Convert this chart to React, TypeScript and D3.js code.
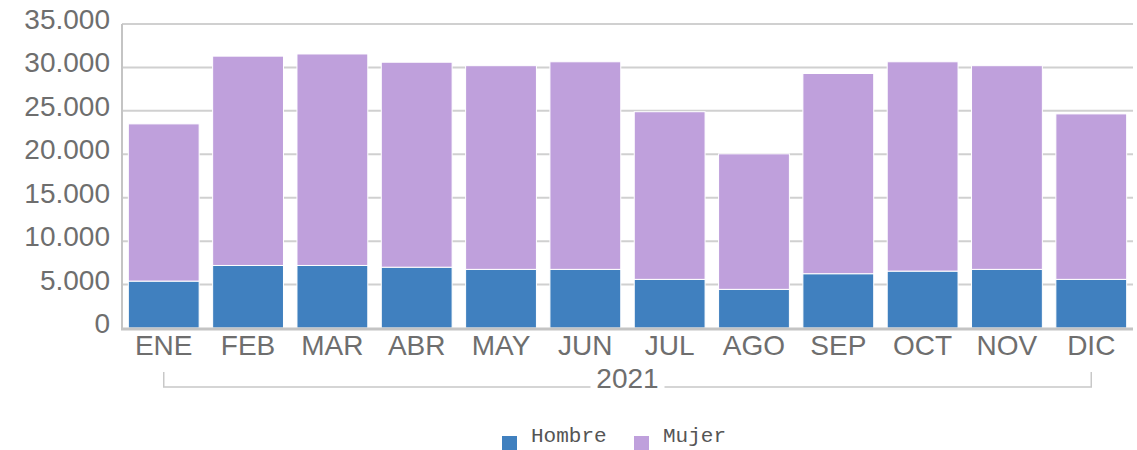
import React, { useRef, useEffect } from 'react';
import * as d3 from 'd3';

// data
const months = ['ENE', 'FEB', 'MAR', 'ABR', 'MAY', 'JUN', 'JUL', 'AGO', 'SEP', 'OCT', 'NOV', 'DIC'];
const hombre = [5400, 7200, 7200, 7000, 6750, 6750, 5600, 4450, 6250, 6550, 6750, 5600];
const mujer = [18100, 24100, 24350, 23600, 23450, 23900, 19300, 15600, 23050, 24100, 23450, 19050];
const yTicks = [0, 5000, 10000, 15000, 20000, 25000, 30000, 35000];
const seriesNames = ['Hombre', 'Mujer'];
const seriesColors = ['#4080bf', '#bfa0dc'];
const yearLabel = '2021';

const App = () => {
  const svgRef = useRef<SVGSVGElement>(null);
  const width = 1137;
  const height = 450;

  useEffect(() => {
    const svg = d3.select(svgRef.current);
    svg.selectAll('*').remove();

    const left = 122;
    const right = 1133;
    const top = 24;
    const bottom = 328;
    const font = '"Liberation Sans", Arial, sans-serif';

    const x = d3.scaleBand()
      .domain(months)
      .range([left, right])
      .paddingInner(0.16)
      .paddingOuter(0.075);

    const y = d3.scaleLinear()
      .domain([0, 35000])
      .range([bottom, top]);

    const fmt = d3.formatLocale({ decimal: ',', thousands: '.', grouping: [3], currency: ['', ''] }).format(',');

    // gridlines
    svg.append('g')
      .selectAll('line')
      .data(yTicks.filter(d => d > 0))
      .enter()
      .append('line')
        .attr('x1', left)
        .attr('x2', right)
        .attr('y1', d => y(d))
        .attr('y2', d => y(d))
        .attr('stroke', '#d0d0d0')
        .attr('stroke-width', 2);

    // y labels
    svg.append('g')
      .selectAll('text')
      .data(yTicks)
      .enter()
      .append('text')
        .attr('x', 110)
        .attr('y', d => y(d))
        .attr('dy', '0.18em')
        .attr('text-anchor', 'end')
        .attr('fill', '#6e6e6e')
        .style('font-family', font)
        .style('font-size', '28px')
        .text(d => fmt(d));

    // stacked bars
    const rows = months.map((m, i) => ({ month: m, Hombre: hombre[i], Mujer: mujer[i] }));
    const stacked = d3.stack<any>().keys(seriesNames)(rows);

    svg.append('g')
      .selectAll('g')
      .data(stacked)
      .enter()
      .append('g')
        .attr('fill', (d, i) => seriesColors[i])
      .selectAll('rect')
      .data(d => d)
      .enter()
      .append('rect')
        .attr('x', d => x(d.data.month)!)
        .attr('width', x.bandwidth())
        .attr('y', d => y(d[1]))
        .attr('height', d => y(d[0]) - y(d[1]))
        .attr('stroke', '#fff')
        .attr('stroke-width', 1);

    // axis lines
    svg.append('line')
      .attr('x1', left).attr('x2', left)
      .attr('y1', top).attr('y2', bottom)
      .attr('stroke', '#c4c4c4')
      .attr('stroke-width', 2);
    svg.append('line')
      .attr('x1', left - 1).attr('x2', right)
      .attr('y1', bottom + 1).attr('y2', bottom + 1)
      .attr('stroke', '#c4c4c4')
      .attr('stroke-width', 3);

    // month labels
    svg.append('g')
      .selectAll('text')
      .data(months)
      .enter()
      .append('text')
        .attr('x', d => x(d)! + x.bandwidth() / 2)
        .attr('y', 355)
        .attr('text-anchor', 'middle')
        .attr('fill', '#6e6e6e')
        .style('font-family', font)
        .style('font-size', '28px')
        .text(d => d);

    // year bracket
    const bx0 = x(months[0])! + x.bandwidth() / 2;
    const bx1 = x(months[months.length - 1])! + x.bandwidth() / 2;
    const mid = (bx0 + bx1) / 2;
    const by = 387;
    svg.append('path')
      .attr('d', `M${bx0},372V${by}H${mid - 37}M${mid + 37},${by}H${bx1}V372`)
      .attr('fill', 'none')
      .attr('stroke', '#c8c8c8')
      .attr('stroke-width', 1.5);
    svg.append('text')
      .attr('x', mid)
      .attr('y', 388)
      .attr('text-anchor', 'middle')
      .attr('fill', '#6e6e6e')
      .style('font-family', font)
      .style('font-size', '28px')
      .text(yearLabel);

    // legend
    const legendX = [502, 634];
    const legend = svg.append('g')
      .selectAll('g')
      .data(seriesNames)
      .enter()
      .append('g')
        .attr('transform', (d, i) => `translate(${legendX[i]},0)`);
    legend.append('rect')
      .attr('x', 0)
      .attr('y', 436)
      .attr('width', 15)
      .attr('height', 15)
      .attr('fill', (d, i) => seriesColors[i]);
    legend.append('text')
      .attr('x', 29)
      .attr('y', 442)
      .attr('fill', '#555')
      .style('font-family', '"Liberation Mono", "Courier New", monospace')
      .style('font-size', '21px')
      .text(d => d);
  }, [svgRef]);

  return (
    <div style={{ position: 'absolute', left: 0, top: 0 }}>
      <svg ref={svgRef} width={width} height={height}></svg>
    </div>
  );
};

export default App;
